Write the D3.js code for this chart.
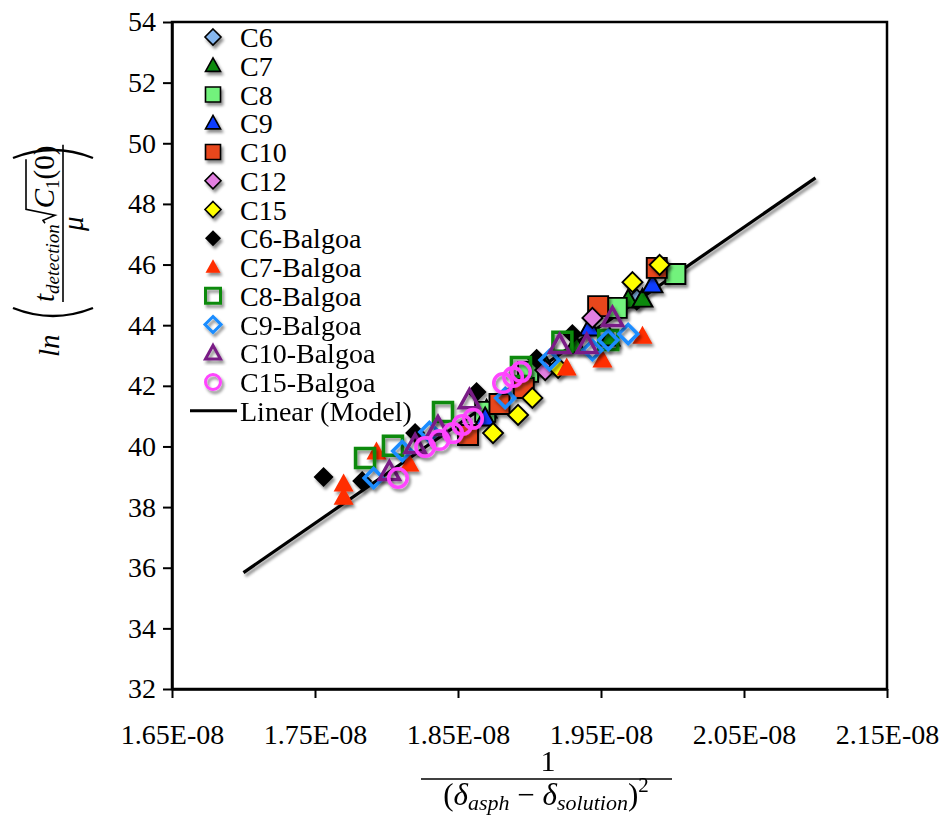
<!DOCTYPE html>
<html>
<head>
<meta charset="utf-8">
<script src="https://cdn.jsdelivr.net/npm/d3@7"></script>
<style>
  html, body { margin: 0; padding: 0; background: #fff; }
  svg text { font-family: "Liberation Serif", "Times New Roman", serif; fill: #000; }
</style>
</head>
<body>
<svg id="chart" width="943" height="815"></svg>
<script>
// Series names, in drawing / legend order
const seriesNames = ["C6", "C7", "C8", "C9", "C10", "C12", "C15",
  "C6-Balgoa", "C7-Balgoa", "C8-Balgoa", "C9-Balgoa", "C10-Balgoa", "C15-Balgoa"];

// x = 1/(δasph − δsolution)^2, y = ln(t_detection·sqrt(C1(0))/μ)
const c6X  = [1.975e-8, 1.905e-8];
const c6Y  = [44.85, 42.70];
const c7X  = [1.870e-8, 1.911e-8, 1.932e-8, 1.956e-8, 1.969e-8, 1.979e-8];
const c7Y  = [41.20, 42.69, 43.35, 43.58, 44.83, 44.86];
const c8X  = [1.869e-8, 1.899e-8, 1.961e-8, 2.002e-8];
const c8Y  = [41.14, 42.46, 44.57, 45.69];
const c9X  = [1.869e-8, 1.942e-8, 1.986e-8];
const c9Y  = [40.94, 43.91, 45.33];
const c10X = [1.857e-8, 1.879e-8, 1.896e-8, 1.948e-8, 1.989e-8];
const c10Y = [40.38, 41.40, 41.93, 44.63, 45.89];
const c12X = [1.911e-8, 1.944e-8];
const c12Y = [42.52, 44.24];
const c15X = [1.8745e-8, 1.892e-8, 1.902e-8, 1.920e-8, 1.972e-8, 1.991e-8];
const c15Y = [40.44, 41.04, 41.60, 42.59, 45.42, 45.99];

const c6bX  = [1.756e-8, 1.783e-8, 1.820e-8, 1.863e-8, 1.905e-8, 1.930e-8];
const c6bY  = [38.99, 38.86, 40.44, 41.80, 42.89, 43.71];
const c7bX  = [1.770e-8, 1.770e-8, 1.793e-8, 1.816e-8, 1.926e-8, 1.951e-8, 1.979e-8];
const c7bY  = [38.76, 38.33, 39.82, 39.42, 42.59, 42.85, 43.64];
const c8bX  = [1.785e-8, 1.8045e-8, 1.8395e-8, 1.894e-8, 1.923e-8, 1.955e-8];
const c8bY  = [39.62, 40.02, 41.14, 42.62, 43.45, 43.51];
const c9bX  = [1.791e-8, 1.811e-8, 1.830e-8, 1.883e-8, 1.914e-8, 1.944e-8, 1.955e-8, 1.969e-8];
const c9bY  = [38.96, 39.85, 40.48, 41.60, 42.85, 43.18, 43.51, 43.71];
const c10bX = [1.802e-8, 1.820e-8, 1.836e-8, 1.858e-8, 1.921e-8, 1.940e-8, 1.958e-8];
const c10bY = [39.16, 40.05, 40.64, 41.53, 43.35, 43.35, 44.24];
const c15bX = [1.808e-8, 1.827e-8, 1.837e-8, 1.8465e-8, 1.853e-8, 1.8605e-8, 1.8815e-8, 1.8885e-8, 1.894e-8];
const c15bY = [38.96, 39.98, 40.21, 40.44, 40.71, 40.91, 42.09, 42.29, 42.46];

// Linear (Model) end points
const modelX = [1.70e-8, 2.10e-8];
const modelY = [35.84, 48.86];

// Axis ticks
const xTicks = [1.65e-8, 1.75e-8, 1.85e-8, 1.95e-8, 2.05e-8, 2.15e-8];
const xTickLabels = ["1.65E-08", "1.75E-08", "1.85E-08", "1.95E-08", "2.05E-08", "2.15E-08"];
const yTicks = [32, 34, 36, 38, 40, 42, 44, 46, 48, 50, 52, 54];
const yTickLabels = ["32", "34", "36", "38", "40", "42", "44", "46", "48", "50", "52", "54"];

const seriesXs = [c6X, c7X, c8X, c9X, c10X, c12X, c15X, c6bX, c7bX, c8bX, c9bX, c10bX, c15bX];
const seriesYs = [c6Y, c7Y, c8Y, c9Y, c10Y, c12Y, c15Y, c6bY, c7bY, c8bY, c9bY, c10bY, c15bY];

// Marker styles: shape, fill, stroke
const styles = [
  { shape: "diamond",  fill: "#86b7ef", stroke: "#000" },
  { shape: "triangle", fill: "#0d8a10", stroke: "#000" },
  { shape: "square",   fill: "#72f27c", stroke: "#000" },
  { shape: "triangle", fill: "#0b3cff", stroke: "#000" },
  { shape: "square",   fill: "#e8461e", stroke: "#000" },
  { shape: "diamond",  fill: "#e27fe0", stroke: "#000" },
  { shape: "diamond",  fill: "#ffff00", stroke: "#000" },
  { shape: "diamond",  fill: "#000",    stroke: "none" },
  { shape: "triangle", fill: "#ff2e00", stroke: "none" },
  { shape: "square",   fill: "none",    stroke: "#0a8a0a", open: true },
  { shape: "diamond",  fill: "none",    stroke: "#1a8cff", open: true },
  { shape: "triangle", fill: "none",    stroke: "#7a1f86", open: true },
  { shape: "circle",   fill: "none",    stroke: "#ff44ff", open: true }
];

const svg = d3.select("#chart");
const plot = { left: 172, right: 887, top: 22, bottom: 689 };

const x = d3.scaleLinear().domain([1.65e-8, 2.15e-8]).range([plot.left, plot.right]);
const y = d3.scaleLinear().domain([32, 54]).range([plot.bottom, plot.top]);

// soft drop shadow used by markers and the model line
const defs = svg.append("defs");
const sh = defs.append("filter").attr("id", "shadow")
  .attr("x", "-50%").attr("y", "-50%").attr("width", "200%").attr("height", "200%");
sh.append("feDropShadow").attr("dx", 2).attr("dy", 3).attr("stdDeviation", 1.6)
  .attr("flood-color", "#000").attr("flood-opacity", 0.45);

function markerPath(shape, s) {
  // s: overall marker width
  const h = s / 2;
  switch (shape) {
    case "diamond": return `M0,${-h}L${h},0L0,${h}L${-h},0Z`;
    case "square": return `M${-h},${-h}H${h}V${h}H${-h}Z`;
    case "triangle": {
      const th = s * 0.9;
      return `M0,${-th * 0.58}L${h},${th * 0.42}L${-h},${th * 0.42}Z`;
    }
    case "circle": return d3.arc()({ innerRadius: 0, outerRadius: h, startAngle: 0, endAngle: 2 * Math.PI });
  }
}
function sizeFor(st, legend) {
  if (legend) return st.shape === "diamond" ? 16 : 15;
  if (st.shape === "diamond") return st.open ? 19 : 20;
  if (st.shape === "square") return st.open ? 19 : 20;
  if (st.shape === "circle") return 18.5;
  return 20;
}
function strokeW(st) { return st.open ? 3.5 : (st.stroke === "none" ? 0 : 1.9); }

// frame
svg.append("rect").attr("x", plot.left).attr("y", plot.top)
  .attr("width", plot.right - plot.left).attr("height", plot.bottom - plot.top)
  .attr("fill", "none").attr("stroke", "#000").attr("stroke-width", 2.5);

// axes
const xAxis = d3.axisBottom(x).tickValues(xTicks).tickSize(9).tickSizeOuter(0)
  .tickFormat((d, i) => xTickLabels[i]);
const gx = svg.append("g").attr("transform", `translate(0,${plot.bottom})`).call(xAxis);
gx.select(".domain").attr("stroke-width", 2.5);
gx.selectAll(".tick line").attr("stroke-width", 2);
gx.selectAll(".tick text").attr("font-size", 28).attr("dy", "1.55em")
  .style("font-family", "'Liberation Serif', 'Times New Roman', serif");

const yAxis = d3.axisLeft(y).tickValues(yTicks).tickSize(9).tickSizeOuter(0)
  .tickFormat((d, i) => yTickLabels[i]);
const gy = svg.append("g").attr("transform", `translate(${plot.left},0)`).call(yAxis);
gy.select(".domain").attr("stroke-width", 2.5);
gy.selectAll(".tick line").attr("stroke-width", 2);
gy.selectAll(".tick text").attr("font-size", 28).attr("x", -16)
  .style("font-family", "'Liberation Serif', 'Times New Roman', serif");

// model line
svg.append("line")
  .attr("x1", x(modelX[0])).attr("y1", y(modelY[0]))
  .attr("x2", x(modelX[1])).attr("y2", y(modelY[1]))
  .attr("stroke", "#000").attr("stroke-width", 3.2).attr("filter", "url(#shadow)");

// data markers
seriesNames.forEach((name, i) => {
  const st = styles[i];
  const pts = seriesXs[i].map((vx, k) => [vx, seriesYs[i][k]]);
  svg.append("g").attr("class", "series").attr("filter", "url(#shadow)")
    .selectAll("path").data(pts).join("path")
    .attr("transform", d => `translate(${x(d[0])},${y(d[1])})`)
    .attr("d", markerPath(st.shape, sizeFor(st, false)))
    .attr("fill", st.fill).attr("stroke", st.stroke).attr("stroke-width", strokeW(st))
    .attr("stroke-linejoin", "miter");
});

// legend
const legend = svg.append("g");
const legY0 = 37, legDy = 28.75;
seriesNames.forEach((name, i) => {
  const st = styles[i];
  const yy = legY0 + i * legDy;
  legend.append("path").attr("transform", `translate(213,${yy})`)
    .attr("d", markerPath(st.shape, sizeFor(st, true)))
    .attr("fill", st.fill).attr("stroke", st.stroke)
    .attr("stroke-width", st.open ? 3 : (st.stroke === "none" ? 0 : 1.6))
    .attr("filter", "url(#shadow)");
  legend.append("text").attr("x", 240).attr("y", yy + 10).attr("font-size", 28).text(name);
});
const lineY = legY0 + seriesNames.length * legDy;
legend.append("line").attr("x1", 190).attr("x2", 237).attr("y1", lineY).attr("y2", lineY)
  .attr("stroke", "#000").attr("stroke-width", 3.2);
legend.append("text").attr("x", 240).attr("y", lineY + 10).attr("font-size", 28).text("Linear (Model)");

// x axis title: 1 / (δ_asph − δ_solution)^2
const xt = svg.append("g");
xt.append("text").attr("x", 548).attr("y", 771).attr("text-anchor", "middle")
  .attr("font-size", 30).text("1");
xt.append("line").attr("x1", 421).attr("x2", 672).attr("y1", 779).attr("y2", 779)
  .attr("stroke", "#000").attr("stroke-width", 1.6);
const den = xt.append("text").attr("x", 546).attr("y", 805).attr("text-anchor", "middle")
  .attr("font-size", 31);
den.append("tspan").text("(");
den.append("tspan").attr("font-style", "italic").text("δ");
den.append("tspan").attr("font-style", "italic").attr("font-size", 22).attr("dy", 5).text("asph");
den.append("tspan").attr("dy", -5).text(" − ");
den.append("tspan").attr("font-style", "italic").text("δ");
den.append("tspan").attr("font-style", "italic").attr("font-size", 22).attr("dy", 5).text("solution");
den.append("tspan").attr("dy", -5).text(")");
den.append("tspan").attr("font-size", 21).attr("dy", -13).text("2");

// y axis title: ln( t_detection · sqrt(C1(0)) / μ ), rotated
const yt = svg.append("g").attr("transform", "translate(63,258) rotate(-90)");
yt.append("text").attr("x", -99).attr("y", -4).attr("font-size", 29)
  .attr("font-style", "italic").text("ln");
// big parentheses
yt.append("path").attr("d", "M-50,-50 Q-66,-10 -50,30").attr("fill", "none")
  .attr("stroke", "#000").attr("stroke-width", 2.4);
yt.append("path").attr("d", "M100,-50 Q116,-10 100,30").attr("fill", "none")
  .attr("stroke", "#000").attr("stroke-width", 2.4);
// numerator
let u = -44;
const t1 = yt.append("text").attr("x", u).attr("y", -9).attr("font-size", 29)
  .attr("font-style", "italic").text("t");
u += t1.node().getComputedTextLength();
const t2 = yt.append("text").attr("x", u).attr("y", -4).attr("font-size", 19)
  .attr("font-style", "italic").text("detection");
u += t2.node().getComputedTextLength() + 1;
// radical sign
const radTop = -37;
yt.append("path")
  .attr("d", `M${u},-18 L${u + 3},-20 L${u + 8},-8 L${u + 14},${radTop} L${u + 64},${radTop}`)
  .attr("fill", "none").attr("stroke", "#000").attr("stroke-width", 1.6);
u += 15;
const t3 = yt.append("text").attr("x", u).attr("y", -9).attr("font-size", 29)
  .attr("font-style", "italic").text("C");
u += t3.node().getComputedTextLength();
const t4 = yt.append("text").attr("x", u).attr("y", -4).attr("font-size", 19).text("1");
u += t4.node().getComputedTextLength();
const t5 = yt.append("text").attr("x", u).attr("y", -9).attr("font-size", 29).text("(0)");
u += t5.node().getComputedTextLength();
// fraction bar
yt.append("line").attr("x1", -44).attr("x2", u + 1).attr("y1", 0).attr("y2", 0)
  .attr("stroke", "#000").attr("stroke-width", 1.6);
// denominator
yt.append("text").attr("x", (u - 44) / 2).attr("y", 20).attr("text-anchor", "middle")
  .attr("font-size", 29).attr("font-style", "italic").text("μ");
</script>
</body>
</html>
